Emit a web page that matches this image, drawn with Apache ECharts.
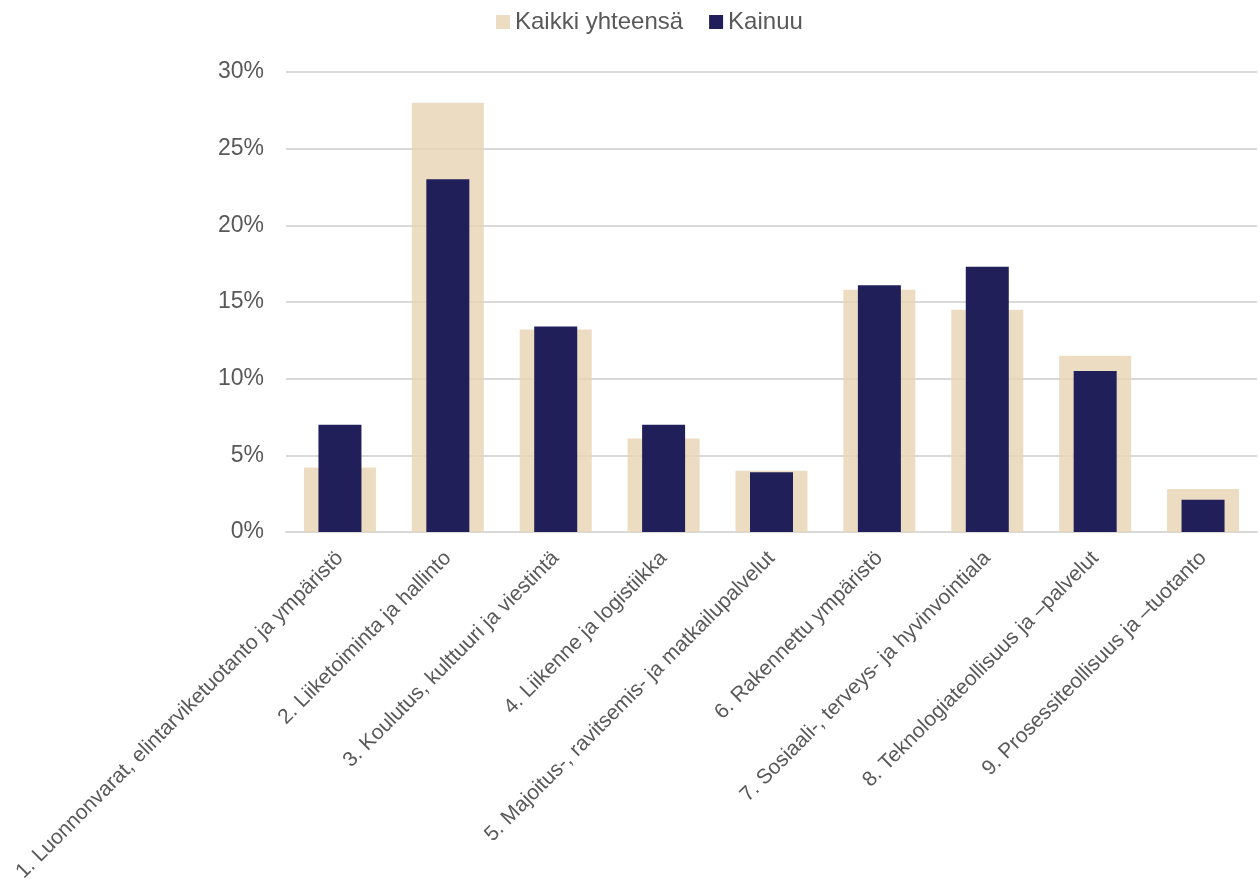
<!DOCTYPE html>
<html>
<head>
<meta charset="utf-8">
<script src="https://cdn.jsdelivr.net/npm/echarts@6/dist/echarts.min.js"></script>
<style>html,body{margin:0;padding:0;background:#fff}#c{width:1260px;height:886px}</style>
</head>
<body>
<div id="c"></div>
<script>
const categories = [
  "1. Luonnonvarat, elintarviketuotanto ja ympäristö",
  "2. Liiketoiminta ja hallinto",
  "3. Koulutus, kulttuuri ja viestintä",
  "4. Liikenne ja logistiikka",
  "5. Majoitus-, ravitsemis- ja matkailupalvelut",
  "6. Rakennettu ympäristö",
  "7. Sosiaali-, terveys- ja hyvinvointiala",
  "8. Teknologiateollisuus ja –palvelut",
  "9. Prosessiteollisuus ja –tuotanto"
];
const seriesNames = ["Kaikki yhteensä", "Kainuu"];
const kaikki = [4.2, 28.0, 13.2, 6.1, 4.0, 15.8, 14.5, 11.5, 2.8];
const kainuu = [7.0, 23.0, 13.4, 7.0, 3.9, 16.1, 17.3, 10.5, 2.1];

const chart = echarts.init(document.getElementById('c'));
const font = 'Liberation Sans, Arial, sans-serif';
chart.setOption({
  animation: false,
  textStyle: { fontFamily: font },
  legend: {
    top: 5, left: 491,
    icon: 'rect',
    itemWidth: 14, itemHeight: 14, itemGap: 26,
    textStyle: { fontSize: 24, color: '#595959', fontFamily: font },
    data: seriesNames
  },
  grid: { left: 286, right: 3, top: 72, bottom: 354, containLabel: false },
  xAxis: [
    {
      type: 'category',
      data: categories,
      axisTick: { show: false },
      axisLine: { lineStyle: { color: '#d9d9d9', width: 2 } },
      axisLabel: { rotate: 45, interval: 0, fontSize: 21, color: '#595959', margin: 23, fontFamily: font }
    },
    {
      type: 'category',
      data: categories,
      position: 'bottom',
      show: false
    }
  ],
  yAxis: {
    type: 'value', min: 0, max: 30, interval: 5,
    axisLine: { show: false }, axisTick: { show: false },
    axisLabel: { formatter: '{value}%', fontSize: 23, color: '#595959', margin: 22, fontFamily: font },
    splitLine: { lineStyle: { color: '#d9d9d9', width: 2 } }
  },
  series: [
    {
      name: seriesNames[0], type: 'bar', data: kaikki,
      xAxisIndex: 0,
      barWidth: 72,
      itemStyle: { color: 'rgba(231,211,179,0.8)' }
    },
    {
      name: seriesNames[1], type: 'bar', data: kainuu,
      xAxisIndex: 1,
      barWidth: 43,
      itemStyle: { color: '#211F5A' }
    }
  ]
});
</script>
</body>
</html>
